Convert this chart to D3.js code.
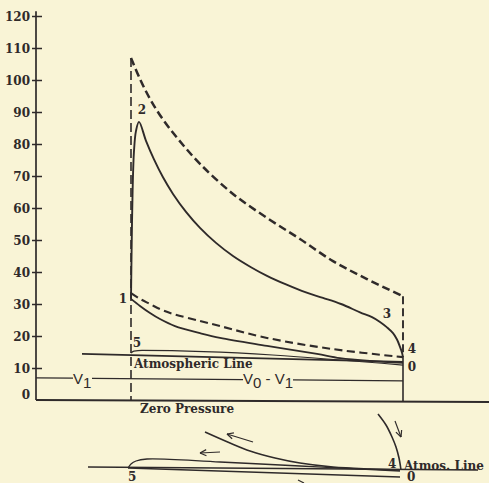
<!DOCTYPE html>
<html><head><meta charset="utf-8">
<script src="https://cdn.jsdelivr.net/npm/d3@7"></script>
<style>
html,body{margin:0;padding:0;background:#f9f4d6;}
svg{display:block;}
</style></head><body>
<svg id="c" width="489" height="483"></svg>
<script>
// ---------- data (volume units, pressure in lb) ----------
const yTicks = [0,10,20,30,40,50,60,70,80,90,100,110,120];

const upperDashedV = [95,104,114,126,142,164,197,231,264,297,331,367];
const upperDashedP = [106.9,100.3,94.1,88.1,81.6,73.8,64.4,56.9,50.3,43.4,37.8,32.4];

const mainV = [95,95.6,96.6,98,100,103,110,118,127,137,150,164,180,197,215,231,250,270,287,305,324,336,344,351,357,361,364,366,367];
const mainP = [31.6,46.6,65.3,77.8,84.1,86.9,81.0,75.2,69.6,64.4,58.8,53.8,49.1,45.0,41.5,38.8,36.1,33.6,31.9,30.0,27.4,25.9,24.4,22.7,20.9,18.9,16.6,14.8,13.4];

const lowerDashedV = [95,104,114,124,137,164,184,231,297,367];
const lowerDashedP = [33.4,31.6,30.0,28.4,26.9,24.7,23.1,19.4,15.9,13.4];

const lowerSolidV = [95,104,114,124,139,164,184,231,281,304,334,367];
const lowerSolidP = [31.6,29.4,27.2,25.3,23.1,20.9,19.4,16.9,14.4,13.1,12.2,11.6];

const atmosV = [46,367];
const atmosP = [14.4,11.9];

const exhaustV = [95,98,106,367];
const exhaustP = [14.7,15.3,15.5,10.9];

const volLineV = [0,367];
const volLineP = [6.9,6.0];
const volBreaks = [[37,56],[207,257]];

const zeroLineV = [0,453];
const zeroLineP = [0,-0.6];

const V1 = 95, V0 = 367;
const peakP = 106.9, endDashP = 32.4, point4P = 13.4;

// point labels [text, v, p]
const pointLabels = [["1",87,31.5],["2",106,90.5],["3",351,27],["4",376,15.9],["0",376,10.3],["5",101,17.8]];

// ---------- detail diagram (volume units, detail units) ----------
const dAtmosV = [52,442], dAtmosD = [16,13];
const dExhaustV = [92,364], dExhaustD = [15,6];
const dBumpV = [92,95,100,111,184,264,304,364], dBumpD = [15,19,22,24,21,17,15,12];
const dCurveV = [169,194,214,239,264,297,334,364], dCurveD = [51,40,32,25,20,16,14,13];
const dArcV = [342,350,356,360,363,365], dArcD = [69,58,46,36,25,13];
// arrows: [tailV, tailD, tipV, tipD]
const dArrows = [[359,62,365,46],[217,41,191,49],[184,31,164,30]];
const dPartial = [[262,3,268,0]];
const dLabels = [["5",92,2],["0",371,2],["4",352,15]];

// ---------- drawing ----------
const ink = "#2f2a2a";
const svg = d3.select("#c");
svg.append("rect").attr("width",489).attr("height",483).attr("fill","#f9f4d6");

const x = d3.scaleLinear().domain([0,367]).range([36,403]);
const y = d3.scaleLinear().domain([0,120]).range([400,16]);
const yd = d3.scaleLinear().domain([0,100]).range([483,383]);

const zip = (a,b) => a.map((v,i)=>[v,b[i]]);
const curve = d3.line().x(d=>x(d[0])).y(d=>y(d[1])).curve(d3.curveCatmullRom.alpha(0.5));
const straight = d3.line().x(d=>x(d[0])).y(d=>y(d[1]));
const dcurve = d3.line().x(d=>x(d[0])).y(d=>yd(d[1])).curve(d3.curveCatmullRom.alpha(0.5));
const dstraight = d3.line().x(d=>x(d[0])).y(d=>yd(d[1]));

function path(gen, data, w, dash){
  const p = svg.append("path").attr("d", gen(data)).attr("fill","none")
    .attr("stroke", ink).attr("stroke-width", w).attr("stroke-linecap","butt").attr("stroke-linejoin","round");
  if (dash) p.attr("stroke-dasharray", dash);
  return p;
}

// axis
const axis = d3.axisLeft(y).tickValues(yTicks).tickSize(0).tickPadding(6);
const ag = svg.append("g").attr("transform",`translate(${x(0)},0)`).call(axis);
ag.select(".domain").remove();
ag.selectAll(".tick text").attr("font-family","DejaVu Serif").attr("font-weight","bold")
  .attr("font-size","12px").attr("fill",ink)
  .attr("dy", d => d===0 ? "-0.12em" : "0.34em");
ag.selectAll(".tick").filter(d=>d>0).append("line").attr("x1",-4).attr("x2",6)
  .attr("stroke",ink).attr("stroke-width",1.5);
svg.append("line").attr("x1",x(0)).attr("x2",x(0)).attr("y1",y(0)).attr("y2",y(121.5))
  .attr("stroke",ink).attr("stroke-width",1.7);

// zero pressure line
path(straight, zip(zeroLineV, zeroLineP), 2);

// volume line with breaks for labels
(function(){
  const p = v => volLineP[0] + (volLineP[1]-volLineP[0])*(v-volLineV[0])/(volLineV[1]-volLineV[0]);
  const segs = [];
  let s = volLineV[0];
  volBreaks.forEach(b=>{ segs.push([s,b[0]]); s=b[1]; });
  segs.push([s, volLineV[1]]);
  segs.forEach(sg=> path(straight, [[sg[0],p(sg[0])],[sg[1],p(sg[1])]], 1.3));
})();

// verticals
path(straight, [[V1,peakP],[V1,0]], 1.6, "9,4");
path(straight, [[V0,endDashP],[V0,point4P]], 1.9, "8,4");
path(straight, [[V0,point4P],[V0,-0.6]], 1.6);

// atmospheric and exhaust lines
path(straight, zip(atmosV, atmosP), 1.7);
path(d3.line().x(d=>x(d[0])).y(d=>y(d[1])).curve(d3.curveMonotoneX), zip(exhaustV, exhaustP), 1.2);

// curves
path(curve, zip(upperDashedV, upperDashedP), 2.5, "8,4");
path(curve, zip(mainV, mainP), 1.9);
path(curve, zip(lowerDashedV, lowerDashedP), 2.1, "8,4.5");
path(curve, zip(lowerSolidV, lowerSolidP), 1.8);

// text
const serif = sel => sel.attr("font-family","DejaVu Serif").attr("font-weight","bold")
  .attr("font-size","12px").attr("fill",ink);
pointLabels.forEach(l=>{
  serif(svg.append("text").attr("x",x(l[1])).attr("y",y(l[2])).attr("dy","0.34em")
    .attr("text-anchor","middle").text(l[0]));
});
serif(svg.append("text").attr("x",134).attr("y",368).text("Atmospheric Line"));
serif(svg.append("text").attr("x",140).attr("y",413).text("Zero Pressure"));

function vLabel(xp, yp, parts){
  const t = svg.append("text").attr("x",xp).attr("y",yp).attr("font-family","Liberation Sans")
    .attr("font-size","15px").attr("fill",ink);
  parts.forEach(p=>{
    const ts = t.append("tspan").text(p[0]);
    if (p[1]) ts.attr("dy", p[1]);
  });
}
vLabel(73, 384, [["V"],["1","4"]]);
vLabel(243, 384, [["V"],["0","4"],[" - ","-4"],["V"],["1","4"]]);

// detail diagram
path(dstraight, zip(dAtmosV, dAtmosD), 1.6);
path(dstraight, zip(dExhaustV, dExhaustD), 1.3);
path(dcurve, zip(dBumpV, dBumpD), 1.3);
path(dcurve, zip(dCurveV, dCurveD), 1.6);
path(dcurve, zip(dArcV, dArcD), 1.6);
function arrow(a){
  const x1=x(a[0]), y1=yd(a[1]), x2=x(a[2]), y2=yd(a[3]);
  svg.append("line").attr("x1",x1).attr("y1",y1).attr("x2",x2).attr("y2",y2)
    .attr("stroke",ink).attr("stroke-width",1.2);
  const ang = Math.atan2(y1-y2, x1-x2);
  [-0.45,0.45].forEach(o=>{
    svg.append("line").attr("x1",x2).attr("y1",y2)
      .attr("x2",x2+7*Math.cos(ang+o)).attr("y2",y2+7*Math.sin(ang+o))
      .attr("stroke",ink).attr("stroke-width",1.2);
  });
}
dArrows.forEach(arrow);
dPartial.forEach(a=> path(dstraight, [[a[0],a[1]],[a[2],a[3]]], 1.2));
dLabels.forEach(l=>{
  serif(svg.append("text").attr("x",x(l[1])).attr("y",yd(l[2])).text(l[0]));
});
serif(svg.append("text").attr("x",404).attr("y",470).text("Atmos. Line"));
</script>
</body></html>
